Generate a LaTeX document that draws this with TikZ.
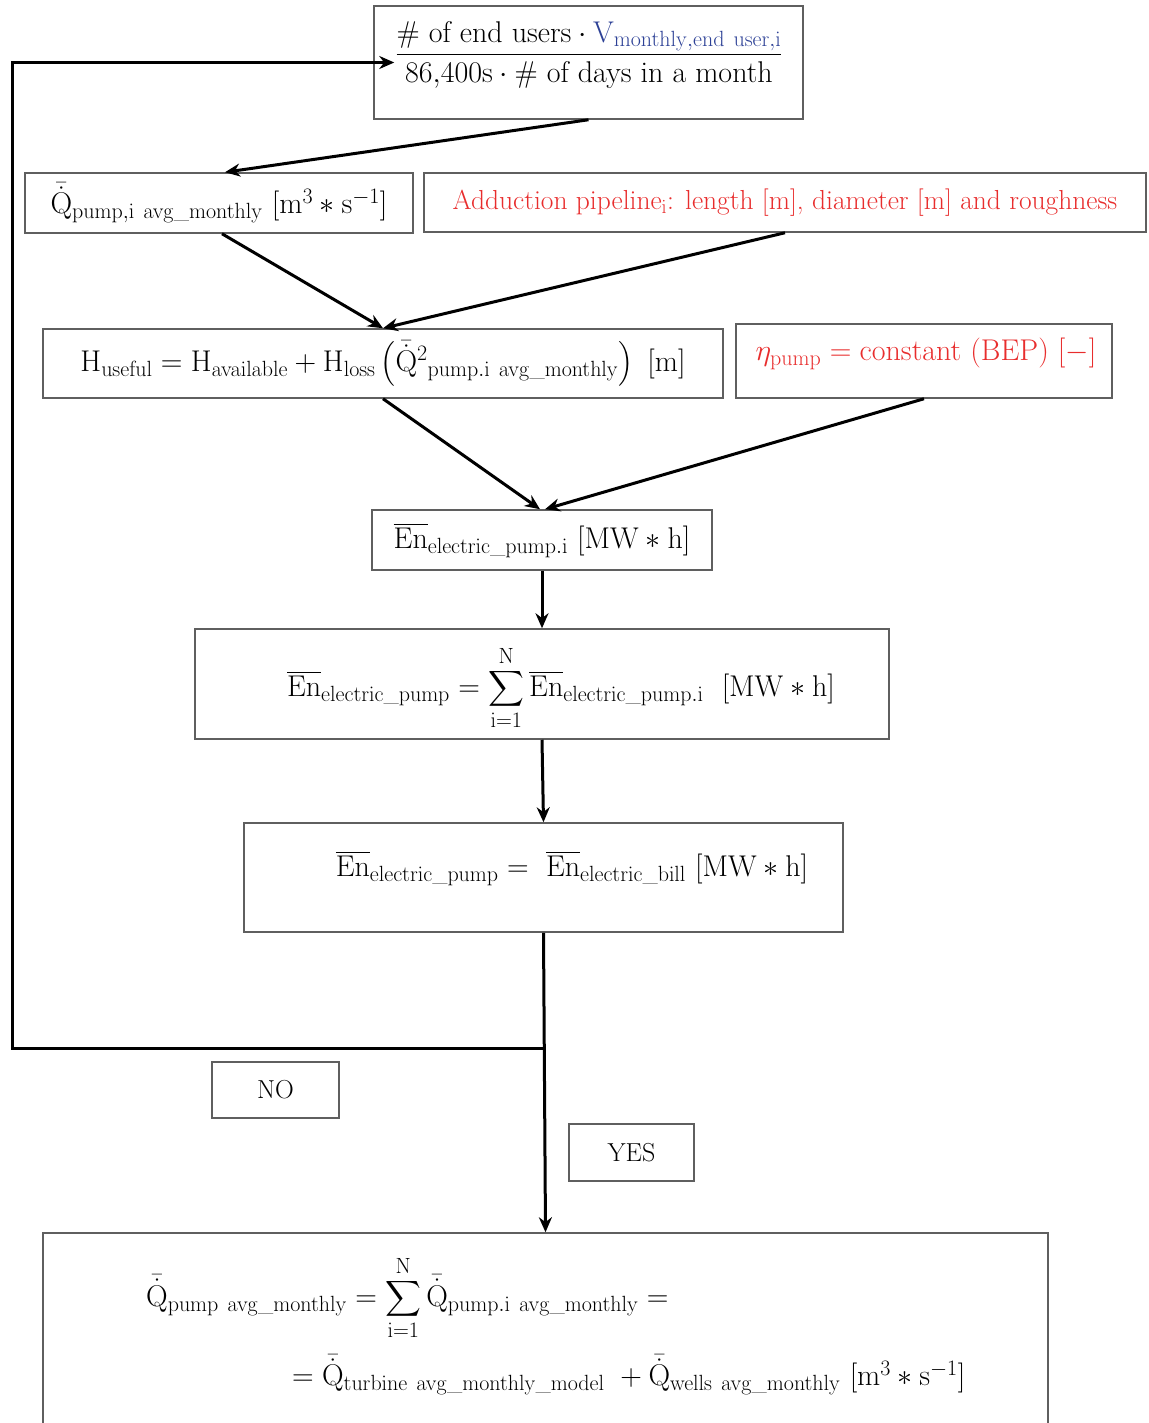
\RequirePackage{fix-cm}
\documentclass[tikz,border=0pt]{standalone}
\usepackage{amsmath}
\usetikzlibrary{arrows.meta,calc}
\DeclareMathSizes{30}{30}{22}{17}
\DeclareMathSizes{27.5}{27.5}{20}{15}
\definecolor{redtxt}{RGB}{232,45,45}
\definecolor{bluetxt}{RGB}{45,65,150}
\definecolor{boxline}{RGB}{95,95,95}
\newcommand{\Qb}{\bar{\dot{\mathrm{Q}}}}
\newcommand{\Enb}{\overline{\mathrm{En}}}
\begin{document}
\begin{tikzpicture}[x=1pt,y=-1pt,
  fbox/.style={draw=boxline, line width=1.5pt, inner sep=0pt, font=\fontsize{30}{34}\selectfont},
  ftext/.style={inner sep=0pt, font=\fontsize{30}{34}\selectfont},
  lbox/.style={draw=boxline, line width=1.5pt, inner sep=0pt, font=\fontsize{26}{30}\selectfont},
  conn/.style={line width=3pt, line join=miter, -{Stealth[length=15pt,width=13pt]}},
]
\useasboundingbox (0,0) rectangle (1148,1423);
% boxes
\node[fbox, minimum width=429pt, minimum height=113pt] (top) at (588.5,62.5) {};
\node[ftext] (topf) at (589,55) {$\dfrac{\#\ \text{of end users}\cdot \textcolor{bluetxt}{\mathrm{V}_{\mathrm{monthly,end\ user,i}}}}{86{,}400\mathrm{s}\cdot\#\ \text{of days in a month}}$};
\node[fbox, minimum width=388pt, minimum height=60pt] (q) at (219,203) {$\Qb_{\mathrm{pump,i\ avg\_monthly}}\ [\mathrm{m}^3\ast\mathrm{s}^{-1}]$};
\node[fbox, minimum width=722pt, minimum height=59pt, text=redtxt, font=\fontsize{27.5}{32}\selectfont] (ad) at (785,202.5) {Adduction pipeline$_{\mathrm{i}}$: length [m], diameter [m] and roughness};
\node[fbox, minimum width=680pt, minimum height=69pt] (h) at (383,363.5) {$\mathrm{H}_{\mathrm{useful}}=\mathrm{H}_{\mathrm{available}}+\mathrm{H}_{\mathrm{loss}}\left(\Qb^2{}_{\mathrm{pump.i\ avg\_monthly}}\right)\ [\mathrm{m}]$};
\node[fbox, minimum width=376pt, minimum height=74pt] (eta) at (924,361) {};
\node[ftext, text=redtxt] (etat) at (926,354) {$\eta_{\mathrm{pump}}=\text{constant (BEP) }[-]$};
\node[fbox, minimum width=340pt, minimum height=60pt] (ei) at (542,540) {$\Enb_{\mathrm{electric\_pump.i}}\ [\mathrm{MW}\ast\mathrm{h}]$};
\node[fbox, minimum width=694pt, minimum height=110pt] (sum) at (542,684) {};
\node[ftext] (sumt) at (561,688) {$\displaystyle\Enb_{\mathrm{electric\_pump}}=\sum_{\mathrm{i}=1}^{\mathrm{N}}\Enb_{\mathrm{electric\_pump.i}}\ \ [\mathrm{MW}\ast\mathrm{h}]$};
\node[fbox, minimum width=599pt, minimum height=109pt] (eq) at (543.5,877.5) {};
\node[ftext] (eqt) at (572,868) {$\Enb_{\mathrm{electric\_pump}}=\ \Enb_{\mathrm{electric\_bill}}\ [\mathrm{MW}\ast\mathrm{h}]$};
\node[lbox, minimum width=127pt, minimum height=56pt] (no) at (275.5,1090) {NO};
\node[lbox, minimum width=125pt, minimum height=57pt] (yes) at (631.5,1152.5) {YES};
\node[fbox, minimum width=1005pt, minimum height=200pt] (bot) at (545.5,1333) {};
\node[ftext, anchor=west] (b1) at (146,1298) {$\displaystyle\Qb_{\mathrm{pump\ avg\_monthly}}=\sum_{\mathrm{i}=1}^{\mathrm{N}}\Qb_{\mathrm{pump.i\ avg\_monthly}}=$};
\node[ftext, anchor=west] (b2) at (292,1375) {$=\Qb_{\mathrm{turbine\ avg\_monthly\_model}}\ +\Qb_{\mathrm{wells\ avg\_monthly}}\ [\mathrm{m}^3\ast\mathrm{s}^{-1}]$};
% connectors
\draw[conn] (top.south) -- ([xshift=6pt]q.north);
\draw[conn] ([xshift=3pt]q.south) -- (h.north);
\draw[conn] (ad.south) -- (h.north);
\draw[conn] (h.south) -- ([xshift=-2pt]ei.north);
\draw[conn] (eta.south) -- ([xshift=3pt]ei.north);
\draw[conn] (ei.south) -- (sum.north);
\draw[conn] (sum.south) -- (eq.north);
\draw[conn] (eq.south) -- (bot.north);
\coordinate (j) at (eq.south |- 0,1048);
\coordinate (loopx) at (12,62.5);
\coordinate (topin) at ([xshift=21pt]top.west);
\draw[conn] (j) -| (loopx) -- (topin);
\end{tikzpicture}
\end{document}
